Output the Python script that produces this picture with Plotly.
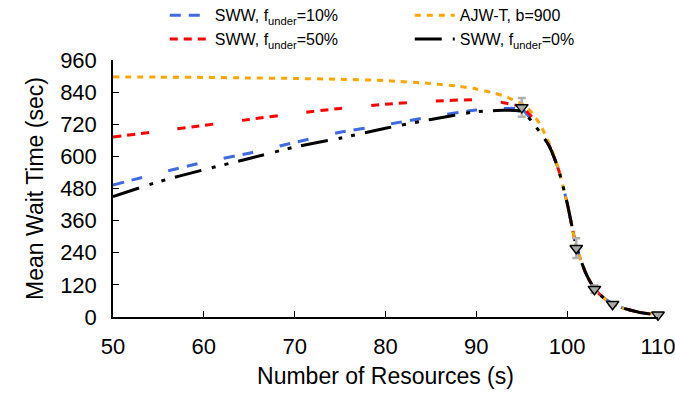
import plotly.graph_objects as go

# ---- data ----
x_sww0 = [50, 55, 60, 65, 70, 75, 80, 85, 90, 93, 95, 96, 97, 98, 99, 100, 101, 102, 103, 104, 105, 106, 107, 108, 110]
y_sww0 = [450, 505, 550, 592, 635, 668, 705, 738, 767, 772, 768, 735, 690, 640, 556, 425, 265, 168, 105, 72, 50, 35, 25, 17, 8]

x_sww10 = [50, 55, 60, 65, 70, 75, 80, 85, 90, 93, 95, 96, 97, 98, 99, 100, 101, 102, 103, 104, 105, 106, 107, 108, 110]
y_sww10 = [493, 537, 578, 612, 652, 690, 718, 748, 773, 779, 776, 740, 692, 640, 556, 425, 265, 168, 105, 72, 50, 35, 25, 17, 8]

x_sww50 = [50, 55, 60, 65, 70, 75, 80, 85, 90, 92, 93, 95, 96, 97, 98, 99, 100, 101, 102, 103, 104, 105, 106, 107, 108, 110]
y_sww50 = [672, 694, 716, 738, 760, 779, 795, 806, 812, 808, 800, 785, 752, 700, 642, 556, 425, 265, 168, 105, 72, 50, 35, 25, 17, 8]

x_ajw = [50, 55, 60, 65, 70, 75, 80, 85, 88, 90, 92, 93, 94, 95, 96, 97, 98, 99, 100, 101, 102, 103, 104, 105, 106, 107, 108, 110]
y_ajw = [897, 896, 895, 893, 891, 888, 883, 872, 862, 852, 836, 826, 812, 797, 768, 720, 650, 558, 425, 265, 168, 105, 72, 50, 35, 25, 17, 8]

x_sim = [95, 101, 103, 105, 110]
y_sim = [783, 257, 104, 48, 8]
e_sim = [35, 37, 14, 6, 3]

x_ticks = [50, 60, 70, 80, 90, 100, 110]
y_ticks = [0, 120, 240, 360, 480, 600, 720, 840, 960]

FONT = "Liberation Sans, Arial, sans-serif"

fig = go.Figure()

fig.add_trace(go.Scatter(
    x=x_sww10, y=y_sww10, mode="lines", name="SWW, f<sub>under</sub>=10%",
    line=dict(color="#4169E1", width=3, dash="11px,8px,11px,27px", shape="spline", smoothing=0.6),
    legendrank=1))
fig.add_trace(go.Scatter(
    x=x_sww50, y=y_sww50, mode="lines", name="SWW, f<sub>under</sub>=50%",
    line=dict(color="#FF0000", width=3, dash="8px,6px,8px,6px,8px,29px", shape="spline", smoothing=0.6),
    legendrank=3))
fig.add_trace(go.Scatter(
    x=x_ajw, y=y_ajw, mode="lines", name="AJW-T, b=900",
    line=dict(color="#FFA500", width=3, dash="6px,6px", shape="spline", smoothing=0.6),
    legendrank=2))
fig.add_trace(go.Scatter(
    x=x_sww0, y=y_sww0, mode="lines", name="SWW, f<sub>under</sub>=0%",
    line=dict(color="black", width=3, dash="27px,11px,4px,9px,4px,10px", shape="spline", smoothing=0.6),
    legendrank=4))
fig.add_trace(go.Scatter(
    x=x_sim, y=y_sim, mode="markers", showlegend=False, cliponaxis=False,
    marker=dict(symbol="triangle-down", size=11, color="#A9A9A9",
                line=dict(color="black", width=1.5)),
    error_y=dict(type="data", array=e_sim, visible=True, color="#B0B0B0",
                 thickness=2.5, width=4)))

axis_common = dict(
    showline=True, linecolor="black", linewidth=1.5,
    ticks="inside", ticklen=6, tickwidth=1.2, tickcolor="black",
    showgrid=False, zeroline=False, ticklabeloverflow="allow",
    tickfont=dict(family=FONT, size=22, color="black"),
)

fig.update_xaxes(range=[50, 110], tickvals=x_ticks, ticktext=[str(v) for v in x_ticks],
                 title=dict(text="Number of Resources (s)",
                            font=dict(family=FONT, size=23, color="black"), standoff=10),
                 ticklabelstandoff=9, automargin=False, **axis_common)
fig.update_yaxes(range=[0, 960], tickvals=y_ticks, ticktext=[str(v) for v in y_ticks],
                 title=dict(text="Mean Wait Time (sec)",
                            font=dict(family=FONT, size=23, color="black"), standoff=10),
                 ticklabelstandoff=10, automargin=False, **axis_common)

fig.update_layout(
    width=675, height=394,
    margin=dict(l=113, r=17, t=60, b=77, autoexpand=False),
    plot_bgcolor="white", paper_bgcolor="white",
    font=dict(family=FONT, color="black"),
    legend=dict(orientation="h", x=0.095, xanchor="left", y=1.24, yanchor="top",
                font=dict(family=FONT, size=16, color="black"),
                entrywidth=190, entrywidthmode="pixels",
                bgcolor="rgba(0,0,0,0)", itemwidth=40, tracegroupgap=0),
    showlegend=True,
)

fig.write_html("out.html")
